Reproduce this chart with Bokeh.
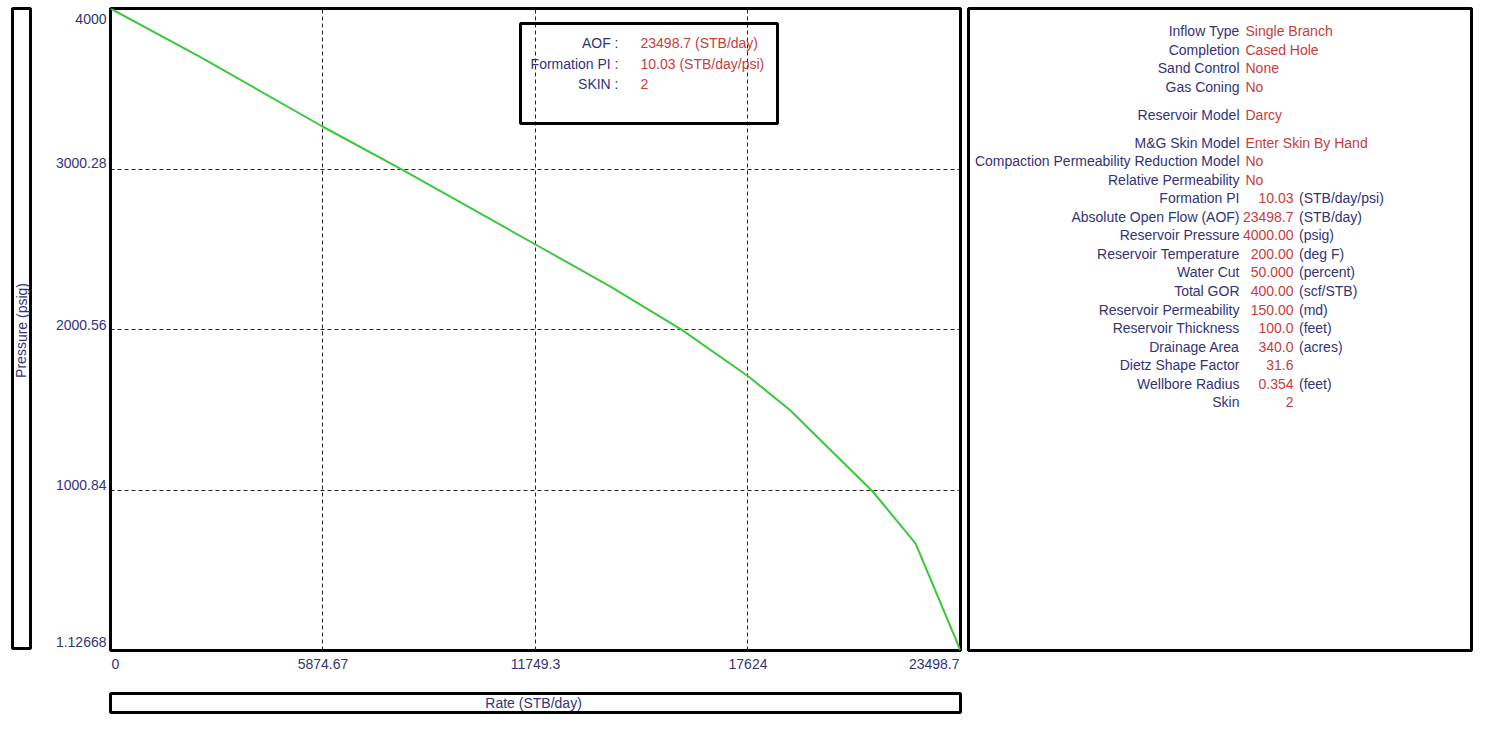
from bokeh.plotting import figure
from bokeh.models import Range1d, Grid, FixedTicker, BoxAnnotation, Spacer
from bokeh.layouts import row, column
from bokeh.core.properties import value
from bokeh.embed import file_html
from bokeh.resources import INLINE

# ---------------- data ----------------
rate = [0, 2488, 5861, 8100, 11749, 13823, 15785, 17638, 18799, 19905, 21066, 22255, 23498.7]
pressure = [4000, 3697, 3265, 2991, 2530, 2268, 2000, 1708, 1496, 1250, 993, 668, 1.12668]

x_ticks = [0, 5874.67, 11749.3, 17624, 23498.7]
x_tick_labels = ["0", "5874.67", "11749.3", "17624", "23498.7"]
y_ticks = [1.12668, 1000.84, 2000.56, 3000.28, 4000]
y_tick_labels = ["1.12668", "1000.84", "2000.56", "3000.28", "4000"]

summary_labels = ["AOF :", "Formation PI :", "SKIN :"]
summary_values = ["23498.7 (STB/day)", "10.03 (STB/day/psi)", "2"]

param_labels = ["Inflow Type", "Completion", "Sand Control", "Gas Coning",
                "Reservoir Model",
                "M&G Skin Model", "Compaction Permeability Reduction Model",
                "Relative Permeability", "Formation PI", "Absolute Open Flow (AOF)",
                "Reservoir Pressure", "Reservoir Temperature", "Water Cut", "Total GOR",
                "Reservoir Permeability", "Reservoir Thickness", "Drainage Area",
                "Dietz Shape Factor", "Wellbore Radius", "Skin"]
param_values = ["Single Branch", "Cased Hole", "None", "No",
                "Darcy",
                "Enter Skin By Hand", "No", "No", "10.03", "23498.7",
                "4000.00", "200.00", "50.000", "400.00",
                "150.00", "100.0", "340.0", "31.6", "0.354", "2"]
param_units = ["", "", "", "", "", "", "", "", "(STB/day/psi)", "(STB/day)",
               "(psig)", "(deg F)", "(percent)", "(scf/STB)", "(md)", "(feet)",
               "(acres)", "", "(feet)", ""]
param_numeric = [False] * 8 + [True] * 12
param_group = [0, 0, 0, 0, 1] + [2] * 15

x_title = "Rate  (STB/day)"
y_title = "Pressure  (psig)"

# ---------------- style ----------------
FONT = value("Liberation Sans")
NAVY = "#333377"
RED = "#c83c3c"
GREEN = "#3cc83c"
FS = "14px"

XMIN, XMAX = 0, 23498.7
YMIN, YMAX = 1.12668, 4000

# frame geometry in picture pixels (used only to place annotation texts)
FL, FR, FT, FB = 110, 960, 8, 650
UPX = (YMAX - YMIN) / (FB - FT)   # pressure units per pixel


def fx(px):
    return XMIN + (px - FL) / (FR - FL) * (XMAX - XMIN)


def fy(py):
    return YMIN + (FB - py) / (FB - FT) * (YMAX - YMIN)


def base_fig(**kw):
    f = figure(toolbar_location=None, output_backend="svg", title=None,
               x_axis_location=None, y_axis_location=None, **kw)
    f.xgrid.grid_line_color = None
    f.ygrid.grid_line_color = None
    f.outline_line_color = None
    f.border_fill_color = "white"
    f.background_fill_color = "white"
    return f


def boxed(f):
    f.outline_line_color = "black"
    f.outline_line_width = 3
    f.outline_line_alpha = 1


# ---------------- main plot ----------------
p = base_fig(width=856, height=654, x_range=Range1d(XMIN, XMAX), y_range=Range1d(YMIN, YMAX),
             min_border_left=2, min_border_right=4, min_border_top=8, min_border_bottom=4)
boxed(p)

p.add_layout(Grid(dimension=0, ticker=FixedTicker(ticks=x_ticks[1:-1]),
                  grid_line_color="#222222", grid_line_dash="4 3", grid_line_width=1))
p.add_layout(Grid(dimension=1, ticker=FixedTicker(ticks=y_ticks[1:-1]),
                  grid_line_color="#222222", grid_line_dash="4 3", grid_line_width=1))

p.line(rate, pressure, line_color=GREEN, line_width=2)

p.add_layout(BoxAnnotation(left=fx(520), right=fx(777), top=fy(23), bottom=fy(123),
                           fill_alpha=0, fill_color=None, line_color="black",
                           line_width=3, line_alpha=1))
sy = [fy(42.3 + i * 20.8) for i in range(len(summary_labels))]
p.text(x=[fx(618)] * len(summary_labels), y=sy, text=summary_labels, text_align="right",
       text_baseline="middle", text_font=FONT, text_font_size=FS, text_color=NAVY)
p.text(x=[fx(640)] * len(summary_values), y=sy, text=summary_values, text_align="left",
       text_baseline="middle", text_font=FONT, text_font_size=FS, text_color=RED)

# ---------------- y tick labels (shares the main y scale) ----------------
yt = base_fig(width=75, height=654, x_range=Range1d(0, 1), y_range=p.y_range,
              min_border_left=0, min_border_right=0, min_border_top=8, min_border_bottom=4)
y_label_lift = [9, 5, 4.5, 6, -10]   # label centre above its tick, pixels
for t, lab, lift in zip(y_ticks, y_tick_labels, y_label_lift):
    yt.text(x=[1], y=[t + lift * UPX], text=[lab], text_align="right",
            text_baseline="middle", x_offset=-2,
            text_font=FONT, text_font_size=FS, text_color=NAVY)

# ---------------- x tick labels ----------------
xt = base_fig(width=931, height=18, x_range=p.x_range, y_range=Range1d(0, 1),
              min_border_left=77, min_border_right=4, min_border_top=0, min_border_bottom=0)
for i, (t, lab) in enumerate(zip(x_ticks, x_tick_labels)):
    al = "left" if i == 0 else ("right" if i == len(x_ticks) - 1 else "center")
    xt.text(x=[t], y=[0.5], text=[lab], text_align=al, text_baseline="middle",
            x_offset=1 if i == 0 else (-1 if al == "right" else 0),
            text_font=FONT, text_font_size=FS, text_color=NAVY)

# ---------------- x title box ----------------
xl = base_fig(width=931, height=24, x_range=Range1d(0, 1), y_range=Range1d(0, 1),
              min_border_left=77, min_border_right=4, min_border_top=2, min_border_bottom=3)
boxed(xl)
xl.text(x=[0.5], y=[0.5], text=[x_title], text_align="center", text_baseline="middle",
        text_font=FONT, text_font_size=FS, text_color=NAVY)

# ---------------- y title box ----------------
yl = base_fig(width=24, height=651, x_range=Range1d(0, 1), y_range=Range1d(0, 1),
              min_border_left=3, min_border_right=3, min_border_top=8, min_border_bottom=3)
boxed(yl)
yl.text(x=[0.5], y=[0.5], text=[y_title], angle=1.5707963, text_align="center",
        text_baseline="middle", text_font=FONT, text_font_size=FS, text_color=NAVY)

# ---------------- right parameter panel ----------------
rp = base_fig(width=509, height=653, x_range=Range1d(968, 1471), y_range=Range1d(650, 8),
              min_border_left=3, min_border_right=3, min_border_top=8, min_border_bottom=3)
boxed(rp)

ry = [30.5 + i * 18.55 + 9.4 * param_group[i] for i in range(len(param_labels))]
rp.text(x=[1239] * len(param_labels), y=ry, text=param_labels, text_align="right",
        text_baseline="middle", text_font=FONT, text_font_size=FS, text_color=NAVY)
s_idx = [i for i in range(len(param_values)) if not param_numeric[i]]
n_idx = [i for i in range(len(param_values)) if param_numeric[i]]
rp.text(x=[1245] * len(s_idx), y=[ry[i] for i in s_idx], text=[param_values[i] for i in s_idx],
        text_align="left", text_baseline="middle", text_font=FONT, text_font_size=FS,
        text_color=RED)
rp.text(x=[1293] * len(n_idx), y=[ry[i] for i in n_idx], text=[param_values[i] for i in n_idx],
        text_align="right", text_baseline="middle", text_font=FONT, text_font_size=FS,
        text_color=RED)
u_idx = [i for i in range(len(param_units)) if param_units[i]]
rp.text(x=[1298.5] * len(u_idx), y=[ry[i] for i in u_idx], text=[param_units[i] for i in u_idx],
        text_align="left", text_baseline="middle", text_font=FONT, text_font_size=FS,
        text_color=NAVY)

# ---------------- layout ----------------
left_col = column(row(yt, p), xt, Spacer(width=931, height=19), xl)
layout = row(Spacer(width=9, height=10), yl, left_col, Spacer(width=1, height=10), rp)

open("out.html", "w").write(file_html(layout, INLINE))
